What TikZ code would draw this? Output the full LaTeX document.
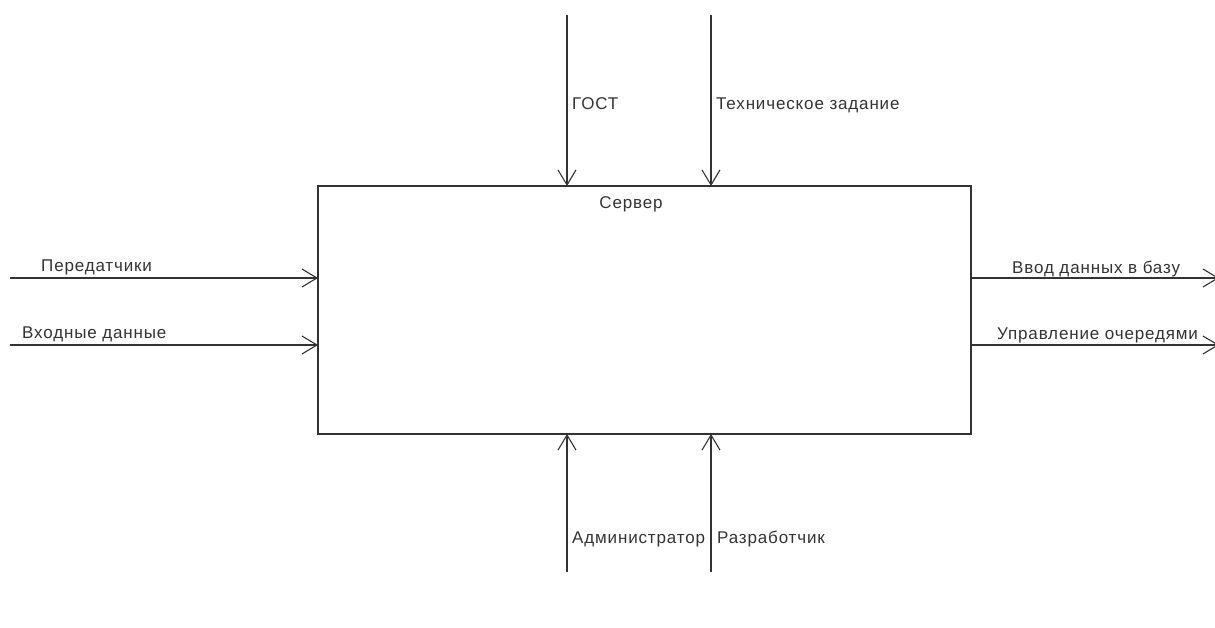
\documentclass[tikz,border=0pt]{standalone}
\usepackage{fontspec}
\setmainfont{Liberation Sans}[LetterSpace=5]
\usetikzlibrary{arrows.meta}
\definecolor{ln}{HTML}{333333}
\definecolor{tx}{HTML}{333333}
\tikzset{
  x=1pt,y=-1pt,
  box/.style={draw=ln,line width=1.1pt,minimum width=653pt,minimum height=248pt,inner sep=0pt,outer sep=0pt},
  conn/.style={draw=ln,line width=1.1pt,-{Straight Barb[length=15pt,width=18pt,line width=1.1pt]}},
  lbl/.style={text=tx,font=\fontsize{17}{19}\selectfont,inner sep=0pt,anchor=base west}
}
\begin{document}
\begin{tikzpicture}
\useasboundingbox (0,0) rectangle (1215,628);
\clip (0,0) rectangle (1215,628);
\node[box] (srv) at (644.5,310) {};
\node[lbl,anchor=base] (srvl) at (631,209) {Сервер};
% control
\coordinate (c1s) at (567,15);
\coordinate (c1e) at (567,186);
\coordinate (c2s) at (711,15);
\coordinate (c2e) at (711,186);
\draw[conn] (c1s) -- (c1e);
\draw[conn] (c2s) -- (c2e);
\node[lbl] (gost) at (572,110) {ГОСТ};
\node[lbl] (tz) at (716,110) {Техническое задание};
% inputs
\coordinate (i1s) at (10,278);
\coordinate (i1e) at (318,278);
\coordinate (i2s) at (10,345);
\coordinate (i2e) at (318,345);
\draw[conn] (i1s) -- (i1e);
\draw[conn] (i2s) -- (i2e);
\node[lbl] (peredat) at (41,272) {Передатчики};
\node[lbl] (vhod) at (22,338) {Входные данные};
% outputs
\coordinate (o1s) at (971,278);
\coordinate (o1e) at (1219,278);
\coordinate (o2s) at (971,345);
\coordinate (o2e) at (1219,345);
\draw[conn] (o1s) -- (o1e);
\draw[conn] (o2s) -- (o2e);
\node[lbl] (vvod) at (1012,273) {Ввод данных в базу};
\node[lbl] (uprav) at (997,339) {Управление очередями};
% mechanisms
\coordinate (m1s) at (567,572);
\coordinate (m1e) at (567,434);
\coordinate (m2s) at (711,572);
\coordinate (m2e) at (711,434);
\draw[conn] (m1s) -- (m1e);
\draw[conn] (m2s) -- (m2e);
\node[lbl] (admin) at (572,543) {Администратор};
\node[lbl] (razr) at (717,543) {Разработчик};
\end{tikzpicture}
\end{document}
